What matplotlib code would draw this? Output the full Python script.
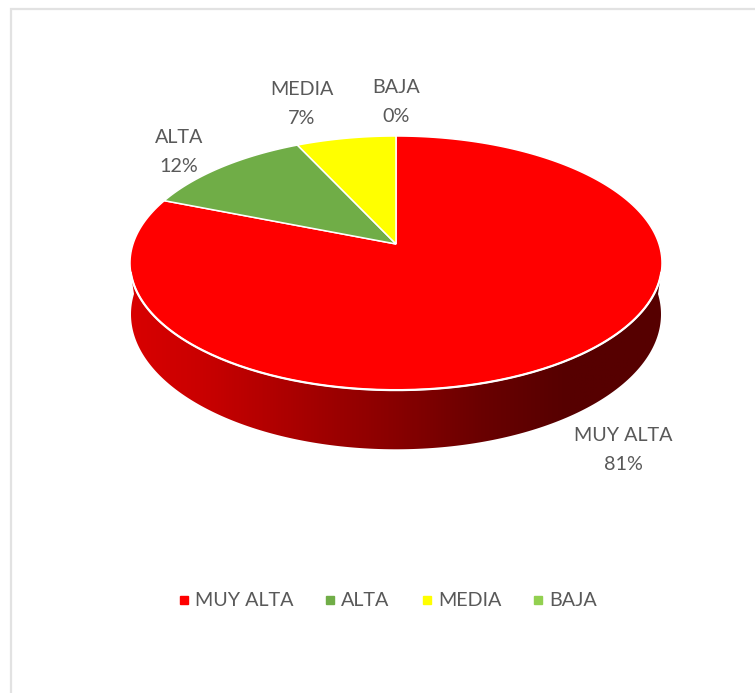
import numpy as np
import matplotlib

matplotlib.use("Agg")
import matplotlib.pyplot as plt
from matplotlib.colors import LinearSegmentedColormap
from matplotlib.lines import Line2D
from matplotlib.patches import Polygon

categories = ["MUY ALTA", "ALTA", "MEDIA", "BAJA"]
percents = [81, 12, 7, 0]
colors = ["#FF0000", "#70AD47", "#FFFF00", "#92D050"]

plt.rcParams["font.family"] = ["Lato", "DejaVu Sans"]
TEXT = "#595959"
FONT = 14.2

# posiciones de las etiquetas en pixeles de la imagen
LABEL_POS = [(623, 450), (179, 152), (302, 104), (396, 102)]

# disco superior / inferior: perspectiva simple (cx, cy, b, a, k)
TOP = (396, 244, 263, 124.2, 0.15)
BOTTOM = (396, 294, 262, 132, 0.15)


def project(disc, theta):
    # theta medido desde arriba en sentido horario
    cx, cy, b, a, k = disc
    x, y = np.sin(theta), np.cos(theta)
    d = 1 + k * y
    return cx + b * x / d, cy - a * y / d


fig = plt.figure(figsize=(7.55, 6.93), dpi=100)
ax = fig.add_axes([0, 0, 1, 1])
ax.set_xlim(0, 755)
ax.set_ylim(693, 0)
ax.axis("off")

# marco gris del recuadro
ax.plot([11, 11, 755], [693, 8.5, 8.5], color="#E2E2E2", lw=1.6, solid_joinstyle="miter")

# pared lateral con degradado
t_top = np.linspace(np.radians(103), np.radians(257), 200)
t_bot = np.linspace(np.radians(90), np.radians(270), 200)
tx, ty = project(TOP, t_top)
bx, by = project(BOTTOM, t_bot)
side = Polygon(
    np.column_stack([np.r_[tx, bx[::-1]], np.r_[ty, by[::-1]]]),
    closed=True, transform=ax.transData, fc="none", ec="none",
)
ax.add_patch(side)
cmap = LinearSegmentedColormap.from_list(
    "side",
    [(0.0, "#D80000"), (0.13, "#CA0000"), (0.36, "#A00000"), (0.5, "#880000"),
     (0.66, "#6A0000"), (0.82, "#560000"), (1.0, "#560000")],
)
img = ax.imshow(
    np.linspace(0, 1, 400).reshape(1, -1), cmap=cmap, aspect="auto",
    extent=(130, 662, 460, 260), zorder=1,
)
img.set_clip_path(side)
ax.set_xlim(0, 755)
ax.set_ylim(693, 0)

# cara superior: cada sector sale de los porcentajes
edges = np.cumsum([0] + percents) / sum(percents) * 2 * np.pi
for pct, col, a0, a1 in zip(percents, colors, edges[:-1], edges[1:]):
    if pct == 0:
        continue
    t = np.linspace(a0, a1, 240)
    x, y = project(TOP, t)
    ax.fill(np.r_[TOP[0], x], np.r_[TOP[1], y], fc=col, ec="white", lw=1.1,
            joinstyle="miter", zorder=2)

# borde blanco entre la cara y la pared
lx, ly = project(TOP, t_top)
ax.plot(lx, ly, color="white", lw=1.6, zorder=3)

for cat, pct, (px, py) in zip(categories, percents, LABEL_POS):
    ax.text(px, py, f"{cat}\n{pct}%", ha="center", va="center", color=TEXT,
            fontsize=FONT, linespacing=1.8, zorder=4)

handles = [
    Line2D([], [], ls="none", marker="s", ms=5.2, mfc=c, mec=c, label=n)
    for n, c in zip(categories, colors)
]
fig.legend(
    handles=handles, ncol=4, loc="center", bbox_to_anchor=(388 / 755, 1 - 601 / 693),
    frameon=False, fontsize=FONT, labelcolor=TEXT, handlelength=0.5,
    handletextpad=0.3, columnspacing=1.64,
)

fig.savefig("out.png", dpi=100)
